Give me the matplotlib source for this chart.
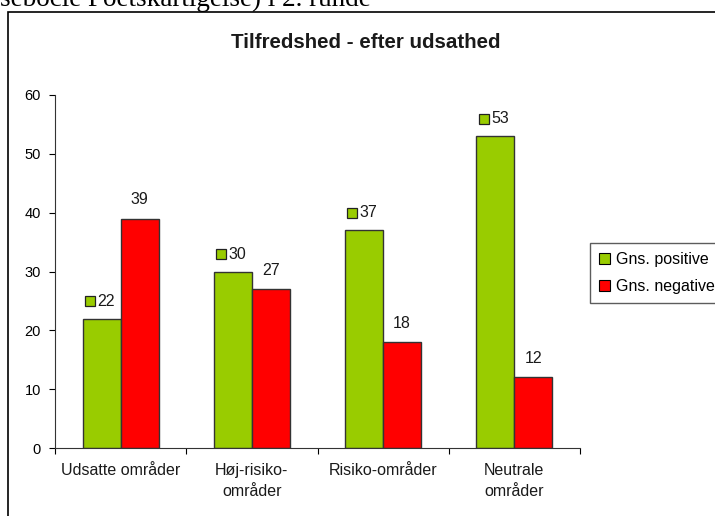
import numpy as np
import matplotlib.pyplot as plt
import matplotlib.patches as mpatches
from matplotlib.transforms import offset_copy

# ---------------------------------------------------------
# Data
# ---------------------------------------------------------
kategorier = ["Udsatte områder", "Høj-risiko-\nområder", "Risiko-områder", "Neutrale\nområder"]
positive = [22, 30, 37, 53]
negative = [39, 27, 18, 12]
serie_navne = ["Gns. positive", "Gns. negative"]

groen = "#99CC00"
roed = "#FF0000"

plt.rcParams["font.family"] = ["Liberation Sans", "DejaVu Sans"]

fig = plt.figure(figsize=(7.15, 5.16), dpi=100)
ax = fig.add_axes([55 / 715, 1 - 448 / 516, 525 / 715, 353 / 516])

x = np.arange(len(kategorier))
w = 0.29
ax.bar(x - w / 2, positive, w, color=groen, edgecolor="#333333", linewidth=1.0, label=serie_navne[0])
ax.bar(x + w / 2, negative, w, color=roed, edgecolor="#333333", linewidth=1.0, label=serie_navne[1])

# data labels (green ones carry a small legend key)
for xi, v in zip(x - w / 2, positive):
    t_sq = offset_copy(ax.transData, fig=fig, x=-8.5, y=12.5, units="points")
    ax.plot([xi], [v], marker="s", markersize=6.5, color=groen, markeredgecolor="#222222",
            markeredgewidth=0.9, transform=t_sq, clip_on=False)
    ax.annotate(str(v), (xi, v), xytext=(-3, 12.5), textcoords="offset points",
                ha="left", va="center", fontsize=11.5, color="#1a1a1a")
for xi, v in zip(x + w / 2, negative):
    ax.annotate(str(v), (xi, v), xytext=(0, 13.5), textcoords="offset points",
                ha="center", va="center", fontsize=11.5, color="#1a1a1a")

ax.set_xlim(-0.5, len(kategorier) - 0.5)
ax.set_ylim(0, 60)
ax.set_yticks(range(0, 61, 10))
ax.tick_params(axis="y", labelsize=10.5, length=4, direction="out", pad=6)
ax.set_xticks(np.arange(-0.5, len(kategorier), 1))
ax.set_xticklabels([])
ax.tick_params(axis="x", length=4, direction="out")
for xi, lab in zip(x, kategorier):
    ax.text(xi, -2.5, lab, ha="center", va="top", fontsize=11.5, linespacing=1.55,
            color="#1a1a1a", transform=ax.transData)

for s in ["top", "right"]:
    ax.spines[s].set_visible(False)
ax.spines["left"].set_color("#333333")
ax.spines["bottom"].set_color("#333333")

fig.text(366 / 715, 1 - 42 / 516, "Tilfredshed - efter udsathed", ha="center", va="center",
         fontsize=14.8, fontweight="bold", color="#1a1a1a")

# outer frame of the scanned chart
fig.patches.append(mpatches.Rectangle((8 / 715, -0.2), 1.2, 1.2 - 12 / 516,
                                      transform=fig.transFigure, fill=False,
                                      edgecolor="black", linewidth=1.2))

# cut-off document text above the chart
fig.text(0.0, 1 - 6 / 516, "sebocle Foetskartigelse) i 2. runde", ha="left", va="baseline",
         fontsize=19.5, family="Liberation Serif", color="black")

h = [mpatches.Patch(facecolor=groen, edgecolor="black", linewidth=0.8),
     mpatches.Patch(facecolor=roed, edgecolor="black", linewidth=0.8)]
leg = fig.legend(h, serie_navne, loc="upper left", bbox_to_anchor=(590 / 715, 1 - 243 / 516),
                 fontsize=11.5, frameon=True, fancybox=False, handlelength=0.7, handleheight=0.7,
                 handletextpad=0.4, borderpad=0.55, labelspacing=0.75, borderaxespad=0)
leg.get_frame().set_edgecolor("#333333")
leg.get_frame().set_linewidth(1.0)

fig.savefig("out.png", dpi=100)
